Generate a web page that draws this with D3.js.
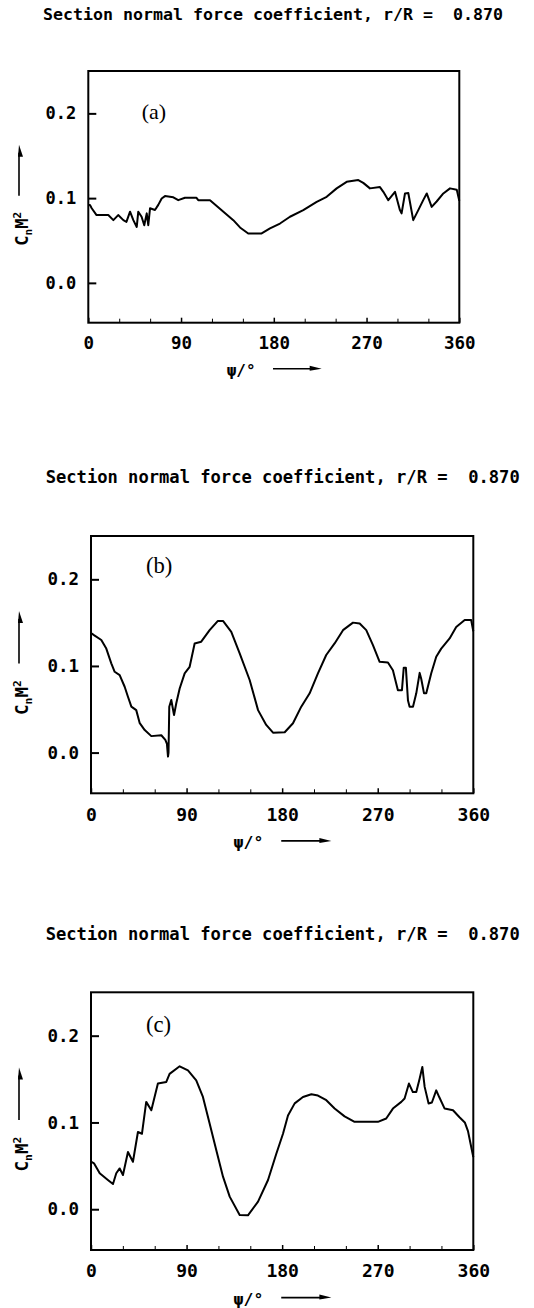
<!DOCTYPE html>
<html lang="en">
<head>
<meta charset="UTF-8">
<title>Section normal force coefficient</title>
<style>
  body { margin: 0; background: #fff; }
  svg text { font-family: "DejaVu Sans Mono", monospace; font-weight: bold; fill: #000; }
</style>
</head>
<body>
<script src="https://d3js.org/d3.v7.min.js"></script>
<script>
let psiA = [0, 1.6, 3.3, 8, 19.4, 24.3, 29, 34, 37, 40.5, 43.7, 47, 48.5, 51.7, 54.3, 56.7, 58.2, 59.9, 64.7, 67.9,
  71.2, 74.4, 82.5, 87.3, 93.8, 105, 106.7, 118.1, 129.4, 140.7, 147.2, 155.2, 168.2, 176.3, 186, 195.7, 208.6,
  221.6, 231.3, 241, 250.7, 262, 266.8, 273.3, 283, 286.3, 291.1, 297.6, 302.4, 304, 307.3, 310.5, 315.3, 320.2,
  325, 328.4, 333.2, 338, 344.5, 351, 357.5, 360];
let cnA = [0.092, 0.092, 0.088, 0.080, 0.080, 0.074, 0.080, 0.074, 0.072, 0.084, 0.074, 0.066, 0.084, 0.078, 0.068,
  0.082, 0.068, 0.088, 0.086, 0.092, 0.0996, 0.1024, 0.101, 0.0976, 0.1004, 0.1004, 0.0976, 0.0976, 0.0858, 0.074,
  0.0654, 0.0583, 0.0583, 0.0642, 0.070, 0.078, 0.0858, 0.0956, 0.1015, 0.1115, 0.1192, 0.1213, 0.118, 0.1115,
  0.113, 0.1074, 0.0976, 0.1074, 0.0858, 0.082, 0.1055, 0.106, 0.074, 0.0858, 0.0976, 0.1055, 0.0897, 0.096,
  0.1055, 0.1115, 0.110, 0.097];

let psiB = [0, 2.8, 9.7, 14.4, 19.1, 22.3, 27, 31.7, 34.8, 38, 42.6, 45.9, 50.6, 56.8, 66.2, 70, 71.5, 72.5, 73,
  73.7, 75.6, 78.2, 80.3, 83.5, 88.2, 92.9, 97.6, 103.8, 111.7, 119.5, 124.3, 132.1, 140, 149.4, 157.3, 165, 171.4,
  182.4, 190.2, 198, 205.9, 213.7, 221.5, 229.4, 237.3, 246.7, 253, 259.2, 265.5, 271.8, 279.6, 284.3, 289, 292.8,
  294.5, 296.5, 298.5, 300, 303.2, 306.3, 309.5, 311, 313.6, 315.7, 320.4, 325.1, 329.8, 337.7, 343.9, 351.9, 358, 360];
let cnB = [0.138, 0.1356, 0.130, 0.120, 0.103, 0.0933, 0.0895, 0.076, 0.0645, 0.053, 0.049, 0.0339, 0.026, 0.019,
  0.020, 0.0146, 0.010, -0.0046, 0.0, 0.053, 0.0607, 0.0434, 0.057, 0.074, 0.0915, 0.099, 0.126, 0.128, 0.1413,
  0.152, 0.152, 0.1394, 0.1145, 0.0838, 0.049, 0.0319, 0.023, 0.0235, 0.0339, 0.053, 0.0684, 0.0915, 0.1126, 0.126,
  0.1413, 0.150, 0.149, 0.1413, 0.124, 0.1048, 0.104, 0.095, 0.072, 0.072, 0.098, 0.098, 0.06, 0.053, 0.053, 0.0684,
  0.092, 0.085, 0.0684, 0.0684, 0.0915, 0.1106, 0.120, 0.1318, 0.145, 0.153, 0.153, 0.140];

let psiC = [0, 2.8, 8.2, 15.9, 20.7, 23.8, 27, 30.1, 34.8, 39.5, 44.2, 48, 52, 56.8, 63, 70.9, 74, 83.5, 91.3, 99.1,
  105.4, 111.7, 118, 124.3, 130.6, 140, 147.8, 157.3, 166.7, 174.5, 180.8, 185.5, 191.8, 199.6, 207.5, 213.7, 221.6,
  229.4, 238.8, 248.2, 270.2, 278, 284.3, 292.2, 295.3, 299.4, 303.1, 306.3, 309.5, 312, 314.2, 317.9, 321, 325.1,
  328, 333, 340.9, 347, 352, 355, 358, 360];
let cnC = [0.055, 0.0529, 0.0414, 0.0337, 0.029, 0.0414, 0.047, 0.0394, 0.066, 0.0547, 0.089, 0.087, 0.1237, 0.114,
  0.1448, 0.1467, 0.156, 0.1647, 0.160, 0.1486, 0.1294, 0.0989, 0.068, 0.0375, 0.0145, -0.0066, -0.007, 0.0087,
  0.0337, 0.064, 0.087, 0.108, 0.122, 0.1294, 0.1325, 0.131, 0.1256, 0.116, 0.107, 0.1007, 0.1007, 0.1046, 0.116,
  0.1237, 0.1276, 0.1448, 0.135, 0.135, 0.1506, 0.164, 0.141, 0.1218, 0.123, 0.137, 0.129, 0.116, 0.114, 0.106,
  0.100, 0.090, 0.072, 0.060];

let xTicks = [0, 90, 180, 270, 360];
let xMinorTicks = [30, 60, 120, 150, 210, 240, 300, 330];
let yTicks = [0, 0.1, 0.2];
let panelLabels = ["(a)", "(b)", "(c)"];
let titleText = "Section normal force coefficient, r/R =  0.870";

let svg = d3.select('body')
  .append('svg')
  .attr('width', 534)
  .attr('height', 1308);

// plot boxes
let panels = [
  {psi: psiA, cn: cnA, left: 88.3, right: 459.3, top: 71, bottom: 322.7, s: 1, labelY: 119, titleX: 43, titleW: 460},
  {psi: psiB, cn: cnB, left: 91, right: 473.3, top: 536, bottom: 793.3, s: 1.03, labelY: 573, titleX: 45.7, titleW: 474},
  {psi: psiC, cn: cnC, left: 91, right: 473.3, top: 992.3, bottom: 1250, s: 1.03, labelY: 1032, titleX: 45.7, titleW: 474}
];

panels.forEach(function(p, i) {
  let x = d3.scaleLinear().domain([0, 360]).range([p.left, p.right]);
  let y = d3.scaleLinear().domain([-0.047, 0.25]).range([p.bottom, p.top]);
  let fs = 16.5 * p.s;
  let g = svg.append('g');

  // title
  g.append('text')
    .attr('x', p.titleX)
    .attr('y', p.top - 51 * p.s)
    .attr('textLength', p.titleW)
    .attr('lengthAdjust', 'spacingAndGlyphs')
    .style('white-space', 'pre')
    .style('font-size', fs + 'px')
    .text(titleText);

  // minor x ticks
  g.append('g')
    .attr('transform', 'translate(0,' + p.bottom + ')')
    .call(d3.axisBottom(x).tickValues(xMinorTicks).tickSize(-4).tickFormat(''))
    .call(a => a.select('.domain').remove());

  // major x ticks with labels
  g.append('g')
    .attr('transform', 'translate(0,' + p.bottom + ')')
    .call(d3.axisBottom(x).tickValues(xTicks).tickSize(-5).tickPadding(14 * p.s).tickFormat(d3.format('d')))
    .call(a => a.select('.domain').remove())
    .call(a => a.selectAll('text').style('font-size', (17.5 * p.s) + 'px').attr('font-family', null))
    .call(a => a.selectAll('line').attr('stroke-width', 1.5));

  // y ticks
  g.append('g')
    .attr('transform', 'translate(' + p.left + ',0)')
    .call(d3.axisLeft(y).tickValues(yTicks).tickSize(-8).tickPadding(12).tickFormat(d3.format('.1f')))
    .call(a => a.select('.domain').remove())
    .call(a => a.selectAll('text').style('font-size', (17 * p.s) + 'px').attr('font-family', null))
    .call(a => a.selectAll('line').attr('stroke-width', 2));

  // frame
  g.append('rect')
    .attr('x', p.left)
    .attr('y', p.top)
    .attr('width', p.right - p.left)
    .attr('height', p.bottom - p.top)
    .attr('fill', 'none')
    .attr('stroke', '#000')
    .attr('stroke-width', 2);

  // curve
  let line = d3.line()
    .x(function(d) { return x(d[0]); })
    .y(function(d) { return y(d[1]); });
  g.append('path')
    .datum(d3.zip(p.psi, p.cn))
    .attr('d', line)
    .attr('fill', 'none')
    .attr('stroke', '#000')
    .attr('stroke-width', 2)
    .attr('stroke-linejoin', 'round');

  // panel letter
  g.append('text')
    .attr('x', p.left + 53.4 * p.s)
    .attr('y', p.labelY)
    .style('font-family', '"Liberation Serif", serif')
    .style('font-weight', 'normal')
    .style('font-size', (22 * p.s) + 'px')
    .text(panelLabels[i]);

  // x axis label with arrow
  let xl = p.left + 138.4 * p.s;
  let xlY = p.bottom + 53 * p.s;
  g.append('text')
    .attr('x', xl)
    .attr('y', xlY)
    .style('font-size', (16 * p.s) + 'px')
    .text('ψ/°');
  let ax1 = p.left + 184.7 * p.s, ax2 = p.left + 233.4 * p.s, ay = xlY - 7;
  g.append('line')
    .attr('x1', ax1).attr('x2', ax2 - 8).attr('y1', ay).attr('y2', ay)
    .attr('stroke', '#000').attr('stroke-width', 1.6);
  g.append('path')
    .attr('d', 'M' + ax2 + ',' + ay + 'L' + (ax2 - 12) + ',' + (ay - 3) + 'L' + (ax2 - 12) + ',' + (ay + 2) + 'Z')
    .attr('fill', '#000');

  // y axis label with arrow
  let cy = (p.top + p.bottom) / 2 + 32 * p.s;
  let yl = g.append('text')
    .attr('transform', 'translate(28,' + cy + ') rotate(-90)')
    .attr('text-anchor', 'middle')
    .style('font-size', (17 * p.s) + 'px');
  yl.append('tspan').text('C');
  yl.append('tspan').attr('dy', 4).style('font-size', (11 * p.s) + 'px').text('n');
  yl.append('tspan').attr('dy', -4).text('M');
  yl.append('tspan').attr('dy', -7).style('font-size', (11 * p.s) + 'px').text('2');

  let yTop = cy - 84 * p.s, yBot = cy - 33 * p.s;
  g.append('line')
    .attr('x1', 19).attr('x2', 19).attr('y1', yTop + 8).attr('y2', yBot)
    .attr('stroke', '#000').attr('stroke-width', 1.6);
  g.append('path')
    .attr('d', 'M19,' + yTop + 'L23,' + (yTop + 12) + 'L18,' + (yTop + 12) + 'Z')
    .attr('fill', '#000');
});
</script>
</body>
</html>
